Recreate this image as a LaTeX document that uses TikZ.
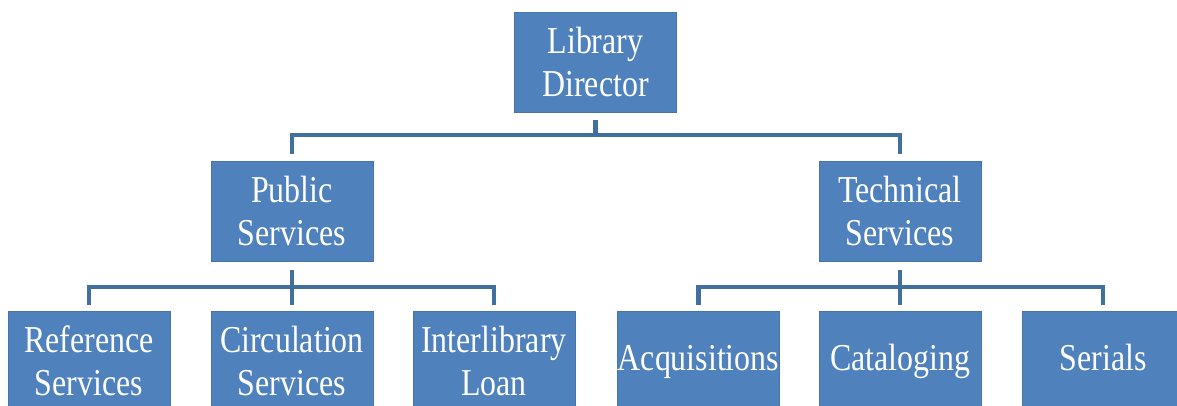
\documentclass[tikz,border=0pt]{standalone}
\usepackage{fontspec}
\setmainfont{Liberation Serif}[FakeStretch=0.84]
\definecolor{boxblue}{HTML}{4F81BD}
\definecolor{lineblue}{HTML}{41709F}
\begin{document}
\begin{tikzpicture}[x=1pt,y=-1pt,
    unit/.style={fill=boxblue,draw=boxblue!90!black,line width=0.6pt,text=white,
      minimum width=162pt,minimum height=100pt,inner sep=0pt,align=center,
      font=\fontsize{38}{43}\selectfont},
    oneline/.style={text height=27pt,text depth=9pt},
    link/.style={draw=lineblue,line width=4.5pt}]
      \clip (0,0) rectangle (1177,406);
      \draw
        (595.5,62) node[unit] (dir){Library\\Director}
        (292,211.5) node[unit] (pub){Public\\Services}
        (900,211.5) node[unit] (tech){Technical\\Services}
        (89,361) node[unit] (ref){Reference\\Services}
        (292,361) node[unit] (circ){Circulation\\Services}
        (494,361) node[unit] (ill){Interlibrary\\Loan}
        (698.5,361) node[unit,oneline] (acq){Acquisitions}
        (900.5,361) node[unit,oneline] (cat){Cataloging}
        (1103,361) node[unit,oneline] (ser){Serials};
      \coordinate (bar1) at (0,135);
      \coordinate (bar2) at (0,287);
      \begin{scope}[link]
        \draw ([yshift=-8pt]dir.south) to (dir.south |- bar1);
        \draw ([yshift=7pt]pub.north) |- (bar1 -| tech.north) to ([yshift=7pt]tech.north);
        \draw ([yshift=-8pt]pub.south) to ([yshift=6pt]pub.south |- circ.north);
        \draw ([yshift=6pt]ref.north) |- (bar2 -| ill.north) to ([yshift=6pt]ill.north);
        \draw ([yshift=-8pt]tech.south) to ([yshift=6pt]tech.south |- cat.north);
        \draw ([yshift=6pt]acq.north) |- (bar2 -| ser.north) to ([yshift=6pt]ser.north);
      \end{scope}
    \end{tikzpicture}
\end{document}
